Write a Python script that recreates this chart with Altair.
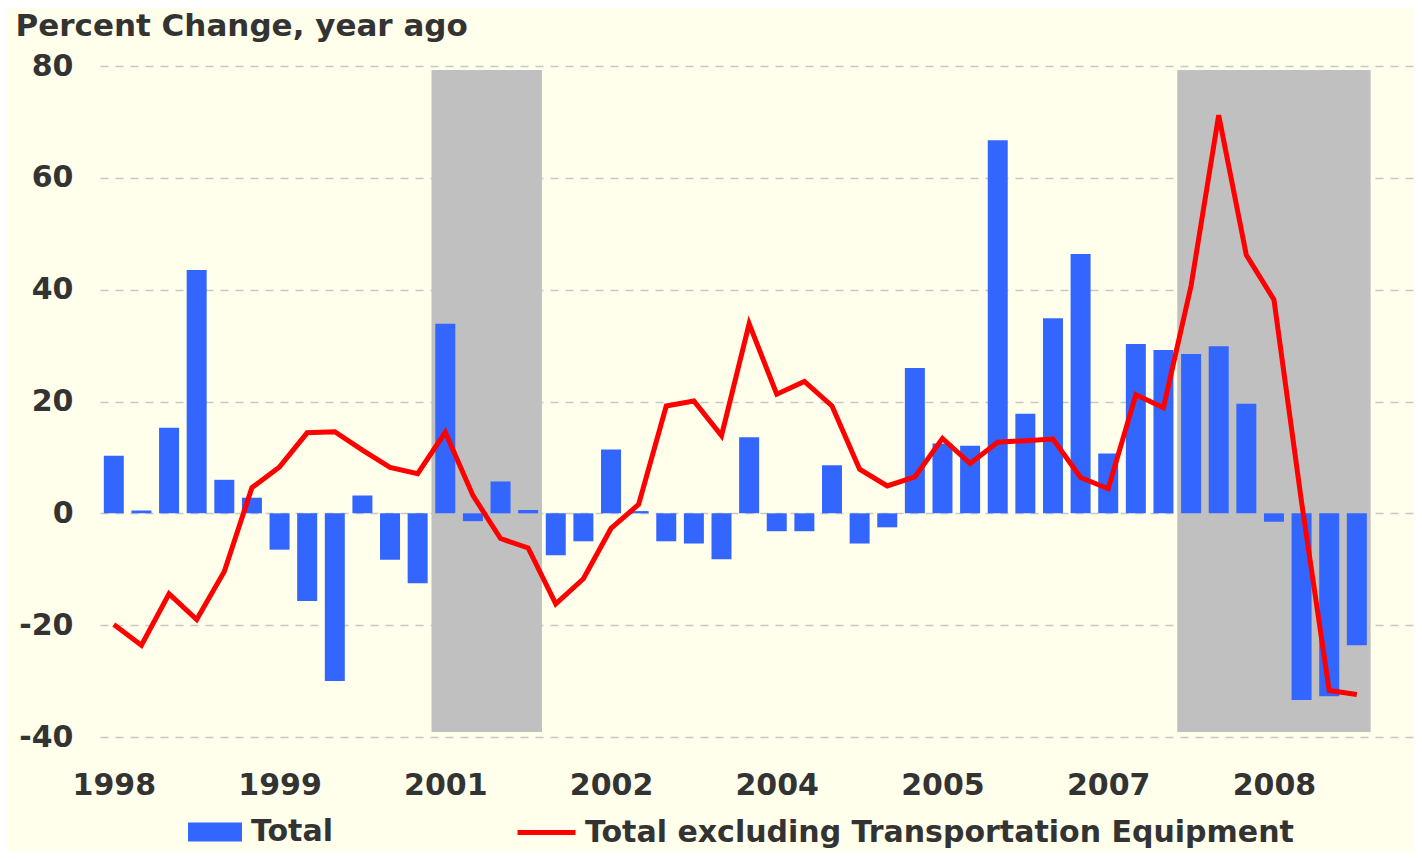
import altair as alt
import pandas as pd

# ---- data -------------------------------------------------------------
quarters = [f"{y}Q{q}" for y in range(1998, 2010) for q in range(1, 5)][:46]

total = [10.3, 0.5, 15.3, 43.5, 6.0, 2.8, -6.5, -15.7, -30.0, 3.2, -8.3, -12.5,
         33.9, -1.4, 5.7, 0.6, -7.5, -5.0, 11.4, 0.4, -5.0, -5.4, -8.2, 13.6,
         -3.2, -3.2, 8.6, -5.4, -2.5, 26.0, 12.5, 12.1, 66.7, 17.8, 34.9, 46.4,
         10.7, 30.3, 29.2, 28.5, 29.9, 19.6, -1.5, -33.4, -32.7, -23.6]

total_ex_transport = [-19.9, -23.6, -14.4, -19.0, -10.4, 4.6, 8.3, 14.4, 14.6, 11.3,
                      8.2, 7.1, 14.5, 3.2, -4.5, -6.2, -16.2, -11.7, -2.7, 1.6,
                      19.2, 20.1, 13.9, 33.9, 21.3, 23.6, 19.2, 7.9, 4.9, 6.5,
                      13.4, 8.9, 12.7, 13.0, 13.3, 6.4, 4.4, 21.2, 18.9, 40.7,
                      71.2, 46.2, 38.2, 2.0, -31.7, -32.4]

series_names = ["Total", "Total excluding Transportation Equipment"]
series_colors = ["#3366FF", "#FF0000"]

recession_start = ["2001Q1", "2007Q4"]
recession_end = ["2001Q4", "2009Q2"]
recession_low, recession_high = -39.1, 79.3

tick_quarters = ["1998Q1", "1999Q3", "2001Q1", "2002Q3", "2004Q1", "2005Q3", "2007Q1", "2008Q3"]
tick_labels = ["1998", "1999", "2001", "2002", "2004", "2005", "2007", "2008"]
y_ticks = [-40, -20, 0, 20, 40, 60, 80]

# ---- tables -----------------------------------------------------------
idx = list(range(len(quarters)))
bars_df = pd.DataFrame({"i": idx, "q": quarters, "v": total, "s": series_names[0]})
line_df = pd.DataFrame({"i": idx, "q": quarters, "v": total_ex_transport, "s": series_names[1]})
rec_df = pd.DataFrame({
    "x1": [quarters.index(a) - 0.5 for a in recession_start],
    "x2": [quarters.index(b) + 0.5 for b in recession_end],
    "y1": [recession_low] * 2,
    "y2": [recession_high] * 2,
})

tick_idx = [quarters.index(t) for t in tick_quarters]
label_expr = "''"
for ti, tl in reversed(list(zip(tick_idx, tick_labels))):
    label_expr = f"datum.value == {ti} ? '{tl}' : ({label_expr})"

FONT = "DejaVu Sans"
TXT = "#333333"

xscale = alt.Scale(domain=[-0.5, 47.07], nice=False, zero=False, padding=0)
yscale = alt.Scale(domain=[-40, 80], nice=False, padding=0)

x_axis = alt.Axis(values=tick_idx, labelExpr=label_expr, title=None, grid=False,
                  ticks=False, domain=False, labelPadding=33, labelFont=FONT,
                  labelFontSize=30, labelFontWeight="bold", labelColor=TXT)
y_axis = alt.Axis(values=y_ticks, labelExpr="'' + datum.value",
                  title="Percent Change, year ago", titleAngle=0,
                  titleAlign="left", titleBaseline="alphabetic", titleX=-85, titleY=-31,
                  titleFont=FONT, titleFontSize=31, titleFontWeight="bold", titleColor=TXT,
                  grid=True, gridDash=[8, 7], gridColor="#C8C8C8", gridWidth=1.5,
                  ticks=False, domain=False, labelPadding=27, labelFont=FONT,
                  labelFontSize=30, labelFontWeight="bold", labelColor=TXT)

legend_text = dict(labelFont=FONT, labelFontSize=30, labelFontWeight="bold",
                   labelColor=TXT, labelLimit=1000, title=None, padding=0,
                   orient="none", direction="horizontal")

bar_legend = alt.Legend(legendX=88, legendY=739, symbolType="M-1,-0.352H1V0.352H-1Z",
                        symbolSize=2916, symbolStrokeWidth=0, symbolOpacity=1,
                        labelOffset=9, **legend_text)
line_legend = alt.Legend(legendX=415, legendY=735, symbolType="stroke",
                         symbolSize=3364, symbolStrokeWidth=5, symbolOpacity=1,
                         labelOffset=7, **legend_text)

shade = alt.Chart(rec_df).mark_rect(color="#C0C0C0", opacity=1).encode(
    x=alt.X("x1:Q", scale=xscale, axis=x_axis),
    x2="x2:Q",
    y=alt.Y("y1:Q", scale=yscale, axis=y_axis),
    y2="y2:Q",
)

bars = alt.Chart(bars_df).mark_bar(size=20).encode(
    x=alt.X("i:Q", scale=xscale),
    y=alt.Y("v:Q", scale=yscale),
    fill=alt.Fill("s:N", scale=alt.Scale(domain=[series_names[0]], range=[series_colors[0]]),
                  legend=bar_legend),
)

line = alt.Chart(line_df).mark_line(strokeWidth=5, strokeJoin="miter").encode(
    x=alt.X("i:Q", scale=xscale),
    y=alt.Y("v:Q", scale=yscale),
    stroke=alt.Stroke("s:N", scale=alt.Scale(domain=[series_names[1]], range=[series_colors[1]]),
                      legend=line_legend),
)

chart = alt.layer(shade, bars, line).resolve_scale(fill="independent", stroke="independent").properties(
    width=1314, height=671,
    background="#FFFFEC",
    padding={"left": 92, "top": 58, "right": 0, "bottom": 114},
    autosize=alt.AutoSizeParams(type="none"),
).configure_view(stroke=None)

chart.save("out.html", embed_options={"renderer": "svg", "actions": False})
